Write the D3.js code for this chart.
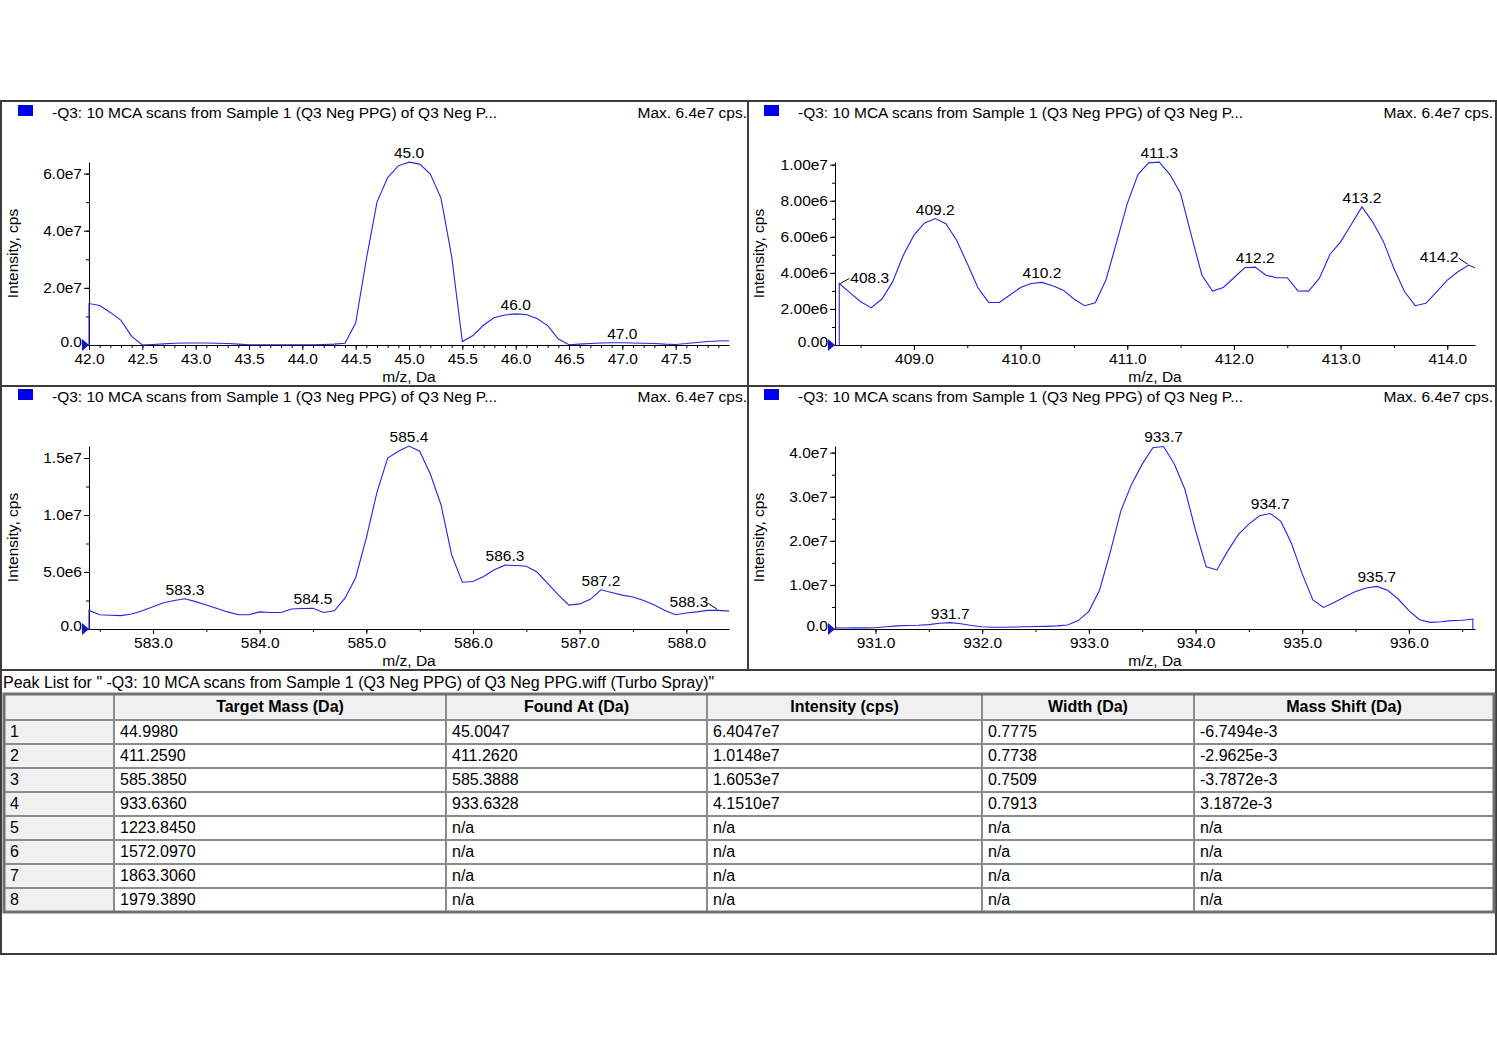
<!DOCTYPE html>
<html>
<head>
<meta charset="utf-8">
<script src="https://cdn.jsdelivr.net/npm/d3@7"></script>
<style>
  body { margin: 0; background: #fff; }
  text { font-family: "Liberation Sans", Arial, sans-serif; }
</style>
</head>
<body>
<svg id="chart" width="1497" height="1058"></svg>
<script>
'use strict'

// ---- spectrum data (m/z in Da, intensity in cps) ----
const mz1 = [42.0, 42.0, 42.1, 42.2, 42.3, 42.4, 42.5, 42.6, 42.7, 42.8, 42.9,
  43.0, 43.1, 43.2, 43.3, 43.4, 43.5, 43.6, 43.7, 43.8, 43.9,
  44.0, 44.1, 44.2, 44.3, 44.4, 44.5, 44.6, 44.7, 44.8, 44.9,
  45.0, 45.1, 45.2, 45.3, 45.4, 45.5, 45.6, 45.7, 45.8, 45.9,
  46.0, 46.1, 46.2, 46.3, 46.4, 46.5, 46.6, 46.7, 46.8, 46.9,
  47.0, 47.1, 47.2, 47.3, 47.4, 47.5, 47.6, 47.7, 47.8, 47.9, 48.0]
const int1 = [0, 14.5e6, 13.8e6, 11.4e6, 8.6e6, 3.0e6, 0.0, 0.2e6, 0.4e6, 0.6e6, 0.7e6,
  0.7e6, 0.7e6, 0.6e6, 0.5e6, 0.3e6, 0.1e6, 0.1e6, 0.1e6, 0.1e6, 0.1e6,
  0.1e6, 0.1e6, 0.2e6, 0.3e6, 0.6e6, 7.7e6, 30.0e6, 50.0e6, 58.6e6, 62.7e6,
  64.0e6, 63.3e6, 59.8e6, 51.4e6, 31.0e6, 1.2e6, 3.3e6, 7.0e6, 9.6e6, 10.5e6,
  10.9e6, 10.7e6, 9.3e6, 6.8e6, 2.1e6, 0.1e6, 0.3e6, 0.5e6, 0.7e6, 0.8e6,
  0.8e6, 0.7e6, 0.6e6, 0.5e6, 0.3e6, 0.2e6, 0.5e6, 0.9e6, 1.2e6, 1.4e6, 1.5e6]

const mz2 = [408.3, 408.3, 408.4, 408.5, 408.6, 408.7, 408.8, 408.9,
  409.0, 409.1, 409.2, 409.3, 409.4, 409.5, 409.6, 409.7, 409.8, 409.9,
  410.0, 410.1, 410.2, 410.3, 410.4, 410.5, 410.6, 410.7, 410.8, 410.9,
  411.0, 411.1, 411.2, 411.3, 411.4, 411.5, 411.6, 411.7, 411.8, 411.9,
  412.0, 412.1, 412.2, 412.3, 412.4, 412.5, 412.6, 412.7, 412.8, 412.9,
  413.0, 413.1, 413.2, 413.3, 413.4, 413.5, 413.6, 413.7, 413.8, 413.9,
  414.0, 414.1, 414.2, 414.26]
const int2 = [0, 3.41e6, 2.9e6, 2.4e6, 2.07e6, 2.55e6, 3.5e6, 4.98e6,
  6.09e6, 6.77e6, 7.01e6, 6.73e6, 5.81e6, 4.52e6, 3.17e6, 2.36e6, 2.36e6, 2.77e6,
  3.19e6, 3.41e6, 3.47e6, 3.28e6, 3.04e6, 2.55e6, 2.18e6, 2.34e6, 3.6e6, 5.7e6,
  7.84e6, 9.45e6, 10.1e6, 10.14e6, 9.45e6, 8.4e6, 6.09e6, 3.87e6, 2.99e6, 3.19e6,
  3.73e6, 4.28e6, 4.32e6, 3.87e6, 3.73e6, 3.73e6, 3.0e6, 2.99e6, 3.69e6, 5.02e6,
  5.72e6, 6.68e6, 7.66e6, 6.83e6, 5.76e6, 4.24e6, 2.95e6, 2.18e6, 2.31e6, 2.95e6,
  3.6e6, 4.06e6, 4.43e6, 4.28e6]

const mz3 = [582.4, 582.4, 582.5, 582.6, 582.7, 582.8, 582.9,
  583.0, 583.1, 583.2, 583.3, 583.4, 583.5, 583.6, 583.7, 583.8, 583.9,
  584.0, 584.1, 584.2, 584.3, 584.4, 584.5, 584.6, 584.7, 584.8, 584.9,
  585.0, 585.1, 585.2, 585.3, 585.4, 585.5, 585.6, 585.7, 585.8, 585.9,
  586.0, 586.1, 586.2, 586.3, 586.4, 586.5, 586.6, 586.7, 586.8, 586.9,
  587.0, 587.1, 587.2, 587.3, 587.4, 587.5, 587.6, 587.7, 587.8, 587.9,
  588.0, 588.1, 588.2, 588.3, 588.4]
const int3 = [0, 1.63e6, 1.25e6, 1.2e6, 1.17e6, 1.31e6, 1.6e6,
  1.95e6, 2.3e6, 2.5e6, 2.65e6, 2.4e6, 2.1e6, 1.8e6, 1.5e6, 1.25e6, 1.25e6,
  1.5e6, 1.45e6, 1.45e6, 1.75e6, 1.8e6, 1.82e6, 1.45e6, 1.6e6, 2.7e6, 4.5e6,
  8.0e6, 12.0e6, 15.0e6, 15.6e6, 16.05e6, 15.6e6, 13.6e6, 10.9e6, 6.5e6, 4.1e6,
  4.17e6, 4.6e6, 5.2e6, 5.6e6, 5.57e6, 5.5e6, 5.0e6, 4.0e6, 3.0e6, 2.1e6,
  2.2e6, 2.6e6, 3.44e6, 3.2e6, 2.97e6, 2.8e6, 2.5e6, 2.1e6, 1.63e6, 1.25e6,
  1.4e6, 1.5e6, 1.63e6, 1.63e6, 1.57e6]

const mz4 = [930.62, 930.7, 930.8, 930.9,
  931.0, 931.1, 931.2, 931.3, 931.4, 931.5, 931.6, 931.7, 931.8, 931.9,
  932.0, 932.1, 932.2, 932.3, 932.4, 932.5, 932.6, 932.7, 932.8, 932.9,
  933.0, 933.1, 933.2, 933.3, 933.4, 933.5, 933.6, 933.7, 933.8, 933.9,
  934.0, 934.1, 934.2, 934.3, 934.4, 934.5, 934.6, 934.7, 934.8, 934.9,
  935.0, 935.1, 935.2, 935.3, 935.4, 935.5, 935.6, 935.7, 935.8, 935.9,
  936.0, 936.1, 936.2, 936.3, 936.4, 936.5, 936.6, 936.6]
const int4 = [0.25e6, 0.23e6, 0.25e6, 0.25e6,
  0.3e6, 0.5e6, 0.7e6, 0.8e6, 0.85e6, 1.0e6, 1.3e6, 1.45e6, 1.2e6, 0.8e6,
  0.5e6, 0.4e6, 0.4e6, 0.45e6, 0.5e6, 0.55e6, 0.6e6, 0.7e6, 0.9e6, 1.9e6,
  4.0e6, 8.8e6, 17.4e6, 26.8e6, 32.8e6, 37.4e6, 41.1e6, 41.4e6, 37.5e6, 31.7e6,
  22.4e6, 14.1e6, 13.4e6, 17.6e6, 21.4e6, 23.8e6, 25.7e6, 26.2e6, 24.4e6, 19.4e6,
  12.5e6, 6.6e6, 4.9e6, 6.0e6, 7.3e6, 8.5e6, 9.3e6, 9.66e6, 8.8e6, 6.8e6,
  4.15e6, 2.1e6, 1.5e6, 1.66e6, 1.9e6, 2.0e6, 2.26e6, 0]

// labelled peaks
const peaks1 = [45.0, 46.0, 47.0]
const peaks2 = [408.3, 409.2, 410.2, 411.3, 412.2, 413.2, 414.2]
const peaks3 = [583.3, 584.5, 585.4, 586.3, 587.2, 588.3]
const peaks4 = [931.7, 933.7, 934.7, 935.7]

// axis ranges and ticks
const xDomain1 = [42.0, 48.0]
const xDomain2 = [408.26, 414.26]
const xDomain3 = [582.4, 588.4]
const xDomain4 = [930.62, 936.62]

const xTicks1 = [42.0, 42.5, 43.0, 43.5, 44.0, 44.5, 45.0, 45.5, 46.0, 46.5, 47.0, 47.5]
const xTicks2 = [409.0, 410.0, 411.0, 412.0, 413.0, 414.0]
const xTicks3 = [583.0, 584.0, 585.0, 586.0, 587.0, 588.0]
const xTicks4 = [931.0, 932.0, 933.0, 934.0, 935.0, 936.0]

const yTicks1 = [0, 2e7, 4e7, 6e7]
const yLabels1 = ['0.0', '2.0e7', '4.0e7', '6.0e7']
const yTicks2 = [0, 2e6, 4e6, 6e6, 8e6, 1e7]
const yLabels2 = ['0.00', '2.00e6', '4.00e6', '6.00e6', '8.00e6', '1.00e7']
const yTicks3 = [0, 5e6, 1e7, 1.5e7]
const yLabels3 = ['0.0', '5.0e6', '1.0e7', '1.5e7']
const yTicks4 = [0, 1e7, 2e7, 3e7, 4e7]
const yLabels4 = ['0.0', '1.0e7', '2.0e7', '3.0e7', '4.0e7']

// ---- peak list table ----
const tableTitle = 'Peak List for " -Q3: 10 MCA scans from Sample 1 (Q3 Neg PPG) of Q3 Neg PPG.wiff (Turbo Spray)"'
const columns = ['', 'Target Mass (Da)', 'Found At (Da)', 'Intensity (cps)', 'Width (Da)', 'Mass Shift (Da)']
const rowIds = ['1', '2', '3', '4', '5', '6', '7', '8']
const targetMass = ['44.9980', '411.2590', '585.3850', '933.6360', '1223.8450', '1572.0970', '1863.3060', '1979.3890']
const foundAt = ['45.0047', '411.2620', '585.3888', '933.6328', 'n/a', 'n/a', 'n/a', 'n/a']
const intensity = ['6.4047e7', '1.0148e7', '1.6053e7', '4.1510e7', 'n/a', 'n/a', 'n/a', 'n/a']
const widths = ['0.7775', '0.7738', '0.7509', '0.7913', 'n/a', 'n/a', 'n/a', 'n/a']
const massShift = ['-6.7494e-3', '-2.9625e-3', '-3.7872e-3', '3.1872e-3', 'n/a', 'n/a', 'n/a', 'n/a']

const panelTitle = '-Q3: 10 MCA scans from Sample 1 (Q3 Neg PPG) of Q3 Neg P...'
const panelMax = 'Max. 6.4e7 cps.'

const lineColor = '#2525e6'
const fs = '15.5px'
const svg = d3.select('#chart')

const panels = [
  { ox: 1, oy: 101, mz: mz1, val: int1, peaks: peaks1, xDomain: xDomain1, xTicks: xTicks1, xMinorStep: 0.1,
    yMax: +intensity[0], yTicks: yTicks1, yLabels: yLabels1, yMinorStep: 1e7 },
  { ox: 747, oy: 101, mz: mz2, val: int2, peaks: peaks2, xDomain: xDomain2, xTicks: xTicks2, xMinorStep: 0.5,
    yMax: +intensity[1], yTicks: yTicks2, yLabels: yLabels2, yMinorStep: 1e6 },
  { ox: 1, oy: 385, mz: mz3, val: int3, peaks: peaks3, xDomain: xDomain3, xTicks: xTicks3, xMinorStep: 0.5,
    yMax: +intensity[2], yTicks: yTicks3, yLabels: yLabels3, yMinorStep: 2.5e6 },
  { ox: 747, oy: 385, mz: mz4, val: int4, peaks: peaks4, xDomain: xDomain4, xTicks: xTicks4, xMinorStep: 0.5,
    yMax: +intensity[3], yTicks: yTicks4, yLabels: yLabels4, yMinorStep: 5e6 }
]

// peaks whose labels sit beside the point with a short leader
const leaderRight = new Set([408.3])
const leaderLeft = new Set([414.2, 588.3])

function styleAxis (g) {
  g.attr('font-family', null).attr('font-size', null)
  g.select('.domain').attr('stroke', '#000').attr('stroke-width', 1)
  g.selectAll('.tick line').attr('stroke', '#000')
  g.selectAll('.tick text').attr('fill', '#000').style('font-size', fs)
}

function drawPanel (p) {
  const g = svg.append('g').attr('transform', `translate(${p.ox},${p.oy})`)
  const x = d3.scaleLinear().domain(p.xDomain).range([88, 728])
  const y = d3.scaleLinear().domain([0, p.yMax]).range([244, 61])

  // header
  g.append('rect').attr('x', 17).attr('y', 4).attr('width', 15).attr('height', 11)
    .attr('fill', '#0000ee')
  g.append('text').attr('x', 51).attr('y', 17).style('font-size', fs).text(panelTitle)
  g.append('text').attr('x', 746).attr('y', 17).attr('text-anchor', 'end')
    .style('font-size', fs).text(panelMax)

  // x axis: minor then labelled
  const minorX = d3.range(Math.ceil(p.xDomain[0] / p.xMinorStep) * p.xMinorStep, p.xDomain[1], p.xMinorStep)
  g.append('g').attr('transform', `translate(0,${y(0)})`)
    .call(d3.axisBottom(x).tickValues(minorX).tickSize(3).tickFormat('').tickSizeOuter(0))
    .call(styleAxis)
  g.append('g').attr('transform', `translate(0,${y(0)})`)
    .call(d3.axisBottom(x).tickValues(p.xTicks).tickSize(5).tickSizeOuter(0).tickPadding(3)
      .tickFormat(d => d.toFixed(1)))
    .call(styleAxis)
    .call(a => a.select('.domain').remove())

  // y axis
  const minorY = d3.range(0, p.yMax, p.yMinorStep)
  g.append('g').attr('transform', `translate(${x.range()[0]},0)`)
    .call(d3.axisLeft(y).tickValues(minorY).tickSize(3).tickFormat('').tickSizeOuter(0))
    .call(styleAxis)
  g.append('g').attr('transform', `translate(${x.range()[0]},0)`)
    .call(d3.axisLeft(y).tickValues(p.yTicks).tickSize(5).tickSizeOuter(0).tickPadding(2)
      .tickFormat((d, i) => p.yLabels[i]))
    .call(styleAxis)
    .call(a => a.select('.domain').remove())
    .call(a => a.selectAll('.tick text').filter(d => d === 0).attr('y', -3))

  // axis titles
  g.append('text').attr('x', (x.range()[0] + x.range()[1]) / 2).attr('y', 281)
    .attr('text-anchor', 'middle').style('font-size', fs).text('m/z, Da')
  g.append('text').attr('transform', `translate(17,${(y.range()[0] + y.range()[1]) / 2}) rotate(-90)`)
    .attr('text-anchor', 'middle').style('font-size', fs).text('Intensity, cps')

  // spectrum trace
  const pts = p.mz.map((m, i) => [m, p.val[i]])
  g.append('path').datum(pts)
    .attr('fill', 'none').attr('stroke', lineColor).attr('stroke-width', 1.1)
    .attr('d', d3.line().x(d => x(d[0])).y(d => y(d[1])))

  // origin marker
  const ox0 = x.range()[0], oy0 = y(0)
  g.append('path').attr('d', `M${ox0 - 7},${oy0 - 6}L${ox0},${oy0}L${ox0 - 7},${oy0 + 6}Z`)
    .attr('fill', '#1414c8')

  // peak labels
  p.peaks.forEach(pk => {
    let best = 0
    p.mz.forEach((m, i) => {
      if (Math.abs(m - pk) < Math.abs(p.mz[best] - pk) ||
        (Math.abs(m - pk) === Math.abs(p.mz[best] - pk) && p.val[i] > p.val[best])) best = i
    })
    const px = x(pk), py = y(p.val[best])
    const t = g.append('text').style('font-size', fs).text(pk.toFixed(1))
    if (leaderRight.has(pk)) {
      t.attr('x', px + 11).attr('y', py - 1)
      g.append('line').attr('x1', px + 1).attr('y1', py).attr('x2', px + 10).attr('y2', py - 5)
        .attr('stroke', '#000')
    } else if (leaderLeft.has(pk)) {
      t.attr('x', px - 10).attr('y', py - 3).attr('text-anchor', 'end')
      g.append('line').attr('x1', px - 10).attr('y1', py - 7).attr('x2', px - 1).attr('y2', py - 1)
        .attr('stroke', '#000')
    } else {
      t.attr('x', px).attr('y', py - 4).attr('text-anchor', 'middle')
    }
  })
}

panels.forEach(drawPanel)

// frame and dividers
const frame = svg.append('g').attr('stroke', '#3c3c3c').attr('stroke-width', 2).attr('fill', 'none')
frame.append('rect').attr('x', 1).attr('y', 101).attr('width', 1495).attr('height', 853)
frame.append('line').attr('x1', 1).attr('x2', 1496).attr('y1', 386).attr('y2', 386)
frame.append('line').attr('x1', 1).attr('x2', 1496).attr('y1', 670).attr('y2', 670)
frame.append('line').attr('x1', 748).attr('x2', 748).attr('y1', 101).attr('y2', 670)

// table
const colX = [4, 114, 446, 707, 982, 1194, 1494]
const headTop = 694, headH = 26, rowH = 24
const tableBottom = headTop + headH + rowH * rowIds.length
const cellCols = [rowIds, targetMass, foundAt, intensity, widths, massShift]
const tfs = '16px'

svg.append('text').attr('x', 3).attr('y', 688).style('font-size', tfs).text(tableTitle)

const tbl = svg.append('g')
tbl.append('rect').attr('x', colX[0]).attr('y', headTop)
  .attr('width', colX[6] - colX[0]).attr('height', headH).attr('fill', '#f0f0f0')
tbl.append('rect').attr('x', colX[0]).attr('y', headTop + headH)
  .attr('width', colX[1] - colX[0]).attr('height', rowH * rowIds.length).attr('fill', '#f0f0f0')

const grid = tbl.append('g').attr('stroke', '#8c8c8c').attr('stroke-width', 2)
d3.range(1, rowIds.length + 1).forEach(i => {
  grid.append('line').attr('x1', colX[0]).attr('x2', colX[6])
    .attr('y1', headTop + headH + rowH * (i - 1)).attr('y2', headTop + headH + rowH * (i - 1))
})
colX.slice(1, -1).forEach(cx => {
  grid.append('line').attr('x1', cx).attr('x2', cx).attr('y1', headTop).attr('y2', tableBottom)
})
tbl.append('rect').attr('x', colX[0]).attr('y', headTop)
  .attr('width', colX[6] - colX[0]).attr('height', tableBottom - headTop)
  .attr('fill', 'none').attr('stroke', '#707070').attr('stroke-width', 3)

columns.forEach((c, j) => {
  tbl.append('text').attr('x', (colX[j] + colX[j + 1]) / 2).attr('y', headTop + 18)
    .attr('text-anchor', 'middle').style('font-size', tfs).style('font-weight', 'bold').text(c)
})
cellCols.forEach((col, j) => {
  tbl.selectAll(null).data(col).enter().append('text')
    .attr('x', colX[j] + 6)
    .attr('y', (d, i) => headTop + headH + rowH * i + 17)
    .style('font-size', tfs)
    .text(d => d)
})
</script>
</body>
</html>
